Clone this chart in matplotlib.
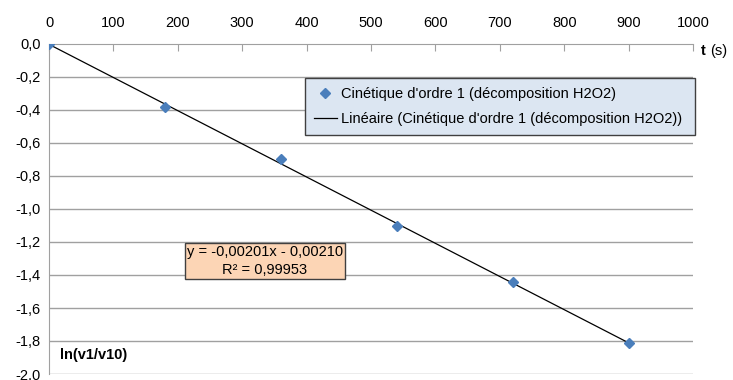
import matplotlib
matplotlib.use("Agg")
import matplotlib.pyplot as plt
import numpy as np

plt.rcParams['font.family'] = ['Liberation Sans', 'DejaVu Sans']

t_values = [0, 180, 360, 540, 720, 900]
ln_values = [0.0, -0.38, -0.70, -1.10, -1.44, -1.81]
slope = -0.00201
intercept = -0.00210
x_ticks = [0, 100, 200, 300, 400, 500, 600, 700, 800, 900, 1000]
y_ticks = [0.0, -0.2, -0.4, -0.6, -0.8, -1.0, -1.2, -1.4, -1.6, -1.8, -2.0]

W, H = 733, 380
fig = plt.figure(figsize=(W/100, H/100), dpi=100)
ax = fig.add_axes([49/W, 1-374/H, (693-49)/W, (374-44)/H])

ax.set_xlim(0, 1000)
ax.set_ylim(-2.0, 0.0)

grid_c = '#a0a0a0'
for y in y_ticks[1:]:
    ax.axhline(y, color=grid_c, lw=1, zorder=0)

for s in ['right', 'bottom']:
    ax.spines[s].set_visible(False)
ax.spines['top'].set_color(grid_c)
ax.spines['left'].set_color(grid_c)
ax.xaxis.tick_top()
ax.set_xticks(x_ticks)
ax.set_xticklabels([str(v) for v in x_ticks])
ax.tick_params(axis='x', direction='in', length=5, color=grid_c, labelsize=10.5, pad=10)
ax.set_yticks(y_ticks)
ax.set_yticklabels([f"{v:.1f}".replace('.', ',') for v in y_ticks])
ax.tick_params(axis='y', length=0, labelsize=10.5, pad=6)

xl = np.array([t_values[0], t_values[-1]])
line, = ax.plot(xl, slope*xl + intercept, color='black', lw=0.9, zorder=2,
                label="Linéaire (Cinétique d'ordre 1 (décomposition H2O2))")
pts, = ax.plot(t_values, ln_values, linestyle='none', marker='D', markersize=5,
               color='#4a7ebb', zorder=3, label="Cinétique d'ordre 1 (décomposition H2O2)")

aw, ah = 693-49, 374-44
leg = ax.legend(handles=[pts, line], loc='upper left',
                bbox_to_anchor=((305-49)/aw, 1-(143-44)/ah, (695-305)/aw, (143-78)/ah),
                mode='expand', frameon=True, fancybox=False, fontsize=10.5,
                handlelength=1.6, handletextpad=0.3, borderaxespad=0, labelspacing=0.8,
                borderpad=0.6)
leg.get_frame().set_facecolor('#dce6f2')
leg.get_frame().set_edgecolor('#404040')
leg.get_frame().set_linewidth(1)
leg.get_frame().set_alpha(1)

fig.text(265/W, 1-261/H, "y = -0,00201x - 0,00210\nR² = 0,99953", ha='center', va='center',
         fontsize=10.5, linespacing=1.3,
         bbox=dict(boxstyle='square,pad=0.15', facecolor='#fcd5b5', edgecolor='#404040', lw=1))

fig.text(60/W, 1-355/H, "ln(v1/v10)", fontsize=10.5, fontweight='bold', va='center', ha='left')
fig.text(701/W, 1-51/H, "t", fontsize=10.5, fontweight='bold', va='center', ha='left')
fig.text(710/W, 1-51/H, "(s)", fontsize=10.5, va='center', ha='left')

fig.savefig("out.png", dpi=100)
